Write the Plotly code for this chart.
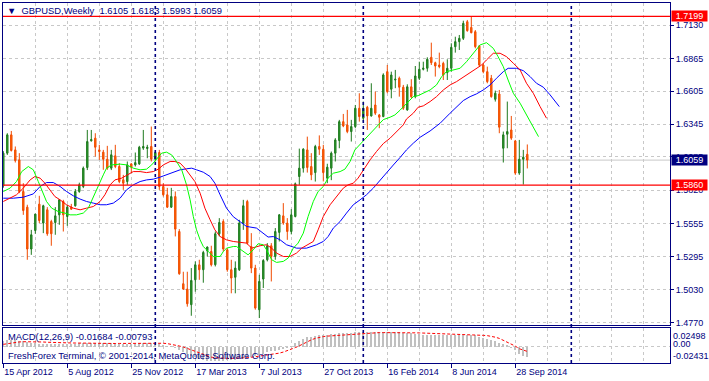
import pandas as pd
import plotly.graph_objects as go

# ---------------- data ----------------
start = pd.Timestamp("2012-04-15")
n_bars = 132
dates = pd.date_range(start, periods=n_bars, freq="7D")

opens = [1.5855,1.6114,1.6259,1.6140,1.6061,1.5810,1.5686,1.5354,1.5501,1.5710,
         1.5560,1.5665,1.5572,1.5564,1.5625,1.5731,1.5612,1.5686,1.5697,1.5810,
         1.5850,1.6000,1.6212,1.6233,1.6140,1.6122,1.6066,1.5995,1.6093,1.6008,
         1.5903,1.5889,1.6029,1.6021,1.6029,1.6154,1.6151,1.6167,1.6066,1.6119,
         1.5850,1.5784,1.5686,1.5770,1.5493,1.5079,1.5037,1.4913,1.5110,1.5229,
         1.5190,1.5340,1.5335,1.5230,1.5475,1.5572,1.5348,1.5190,1.5130,1.5190,
         1.5560,1.5731,1.5374,1.5203,1.4873,1.5116,1.5269,1.5380,1.5295,1.5486,
         1.5617,1.5560,1.5493,1.5612,1.5929,1.5995,1.6140,1.6008,1.5960,1.6167,
         1.6145,1.5916,1.5995,1.6114,1.6214,1.6364,1.6338,1.6285,1.6325,1.6470,
         1.6391,1.6478,1.6409,1.6496,1.6417,1.6404,1.6760,1.6621,1.6694,1.6708,
         1.6637,1.6457,1.6640,1.6562,1.6708,1.6779,1.6787,1.6874,1.6831,1.6813,
         1.6826,1.6752,1.6787,1.6958,1.6998,1.7024,1.7156,1.7111,1.7077,1.6964,
         1.6813,1.6760,1.6708,1.6541,1.6583,1.6153,1.6264,1.6298,1.6211,1.5956,
         1.6066,1.6105]
highs = [1.6130,1.6272,1.6290,1.6167,1.6114,1.5876,1.5705,1.5506,1.5633,1.5776,
         1.5705,1.5686,1.5586,1.5686,1.5750,1.5744,1.5705,1.5712,1.5830,1.5880,
         1.6008,1.6298,1.6298,1.6272,1.6180,1.6140,1.6172,1.6140,1.6180,1.6035,
         1.5942,1.6048,1.6035,1.6119,1.6172,1.6298,1.6180,1.6325,1.6127,1.6140,
         1.5876,1.5839,1.5839,1.5810,1.5512,1.5174,1.5174,1.5203,1.5256,1.5269,
         1.5340,1.5374,1.5380,1.5493,1.5599,1.5590,1.5361,1.5269,1.5256,1.5586,
         1.5744,1.5744,1.5480,1.5229,1.5150,1.5274,1.5401,1.5401,1.5520,1.5631,
         1.5718,1.5599,1.5670,1.5881,1.6150,1.6153,1.6245,1.6114,1.6180,1.6255,
         1.6180,1.6030,1.6127,1.6233,1.6378,1.6425,1.6457,1.6378,1.6496,1.6589,
         1.6523,1.6489,1.6668,1.6602,1.6425,1.6747,1.6813,1.6760,1.6774,1.6721,
         1.6655,1.6660,1.6700,1.6805,1.6839,1.6839,1.6874,1.6990,1.6839,1.6911,
         1.6839,1.6858,1.6985,1.7037,1.7051,1.7164,1.7170,1.7196,1.7090,1.6972,
         1.6826,1.6800,1.6734,1.6610,1.6615,1.6285,1.6523,1.6409,1.6219,1.6219,
         1.6140,1.6183]
lows = [1.5840,1.6100,1.6127,1.6040,1.5797,1.5625,1.5269,1.5308,1.5475,1.5560,
        1.5480,1.5459,1.5380,1.5467,1.5546,1.5493,1.5538,1.5665,1.5690,1.5800,
        1.5837,1.5980,1.6206,1.6087,1.6061,1.5982,1.5982,1.5980,1.5995,1.5876,
        1.5823,1.5863,1.5956,1.6008,1.6021,1.6140,1.6074,1.6048,1.6048,1.5823,
        1.5770,1.5680,1.5680,1.5454,1.5150,1.5030,1.4897,1.4825,1.5016,1.5110,
        1.5087,1.5295,1.5216,1.5216,1.5454,1.5334,1.5174,1.5003,1.5003,1.5180,
        1.5506,1.5390,1.5163,1.4873,1.4807,1.5045,1.5256,1.5097,1.5269,1.5414,
        1.5546,1.5427,1.5470,1.5605,1.5863,1.5960,1.5960,1.5900,1.5889,1.6100,
        1.5890,1.5876,1.5900,1.6048,1.6153,1.6320,1.6272,1.6206,1.6312,1.6364,
        1.6364,1.6298,1.6404,1.6417,1.6312,1.6399,1.6589,1.6549,1.6629,1.6562,
        1.6457,1.6450,1.6550,1.6549,1.6694,1.6770,1.6760,1.6813,1.6721,1.6787,
        1.6694,1.6694,1.6760,1.6911,1.6932,1.7011,1.7077,1.7064,1.6945,1.6800,
        1.6747,1.6668,1.6554,1.6523,1.6272,1.6040,1.6153,1.6219,1.5942,1.5942,
        1.5865,1.5993]
closes = [1.6114,1.6259,1.6135,1.6055,1.5810,1.5659,1.5354,1.5467,1.5631,1.5580,
          1.5697,1.5475,1.5475,1.5617,1.5744,1.5625,1.5686,1.5670,1.5810,1.5863,
          1.5995,1.6206,1.6222,1.6161,1.6127,1.6066,1.5995,1.6101,1.6008,1.5889,
          1.5876,1.6021,1.6003,1.6039,1.6161,1.6167,1.6161,1.6066,1.6119,1.5850,
          1.5784,1.5686,1.5770,1.5512,1.5158,1.5037,1.4920,1.5105,1.5229,1.5190,
          1.5327,1.5370,1.5229,1.5475,1.5564,1.5354,1.5190,1.5124,1.5203,1.5560,
          1.5697,1.5400,1.5203,1.4886,1.5097,1.5263,1.5380,1.5295,1.5493,1.5625,
          1.5560,1.5493,1.5625,1.5871,1.5995,1.6146,1.6000,1.5942,1.6167,1.6145,
          1.5960,1.6003,1.6114,1.6219,1.6364,1.6330,1.6285,1.6325,1.6470,1.6404,
          1.6470,1.6409,1.6470,1.6431,1.6399,1.6734,1.6602,1.6734,1.6700,1.6637,
          1.6470,1.6640,1.6562,1.6726,1.6779,1.6787,1.6858,1.6831,1.6805,1.6800,
          1.6734,1.6787,1.6953,1.6998,1.7024,1.7143,1.7085,1.7069,1.6958,1.6813,
          1.6760,1.6681,1.6562,1.6589,1.6320,1.6259,1.6285,1.6233,1.5956,1.6066,
          1.6082,1.6059]

# Alligator lines: (bar offset in weeks, price)
lips_wk = [0,1.7,3.3,4.6,6.25,7.5,8.75,9.6,10.8,12.1,13.75,15.4,16.7,18.3,20,21.25,22.5,23.75,25,25.8,
           27.1,29.2,30.8,32.5,34.2,35.8,37.1,38.3,39.6,40.8,42.1,43.3,44.6,45.8,46.7,47.5,48.3,49.2,50,51.25,
           52.5,54.2,55,55.8,57.5,58.3,60,61.2,62.5,63.7,65,65.8,67.1,68.3,70,71.2,72.5,73.7,75,76.2,
           77.5,78.7,80,81.2,82.5,84.2,85.4,86.7,87.9,90,91.7,93.3,95,96.7,97.9,99.2,100.8,102.5,103.7,105,
           106.7,108.3,109.6,110.8,112.5,114.2,115.8,117.5,119.2,120.8,122.5,123.7,125,126.2,127.5,129.2,130.8,132.5,133.8]
lips_val = [1.5810,1.5837,1.5889,1.5968,1.6008,1.5982,1.5889,1.5823,1.5731,1.5678,1.5651,1.5639,1.5625,1.5625,1.5639,1.5678,1.5770,1.5863,1.5942,1.5995,
            1.6021,1.6027,1.6021,1.5995,1.5982,1.5987,1.6021,1.6066,1.6114,1.6122,1.6100,1.6048,1.5982,1.5863,1.5744,1.5612,1.5506,1.5427,1.5374,1.5334,
            1.5295,1.5295,1.5334,1.5361,1.5374,1.5374,1.5334,1.5308,1.5348,1.5396,1.5388,1.5348,1.5269,1.5248,1.5256,1.5282,1.5361,1.5401,1.5480,1.5612,
            1.5731,1.5810,1.5850,1.5916,1.5955,1.5968,1.5987,1.6048,1.6140,1.6210,1.6272,1.6325,1.6380,1.6399,1.6417,1.6455,1.6510,1.6562,1.6570,1.6589,
            1.6615,1.6655,1.6721,1.6760,1.6774,1.6787,1.6839,1.6906,1.6972,1.6990,1.6945,1.6879,1.6800,1.6694,1.6589,1.6510,1.6417,1.6325,1.6245]

teeth_wk = [0,1.7,3.3,5,6.7,7.9,9.2,10.4,11.7,12.9,14.2,15.8,17.5,19.2,20.8,22.5,24.2,25.4,26.7,27.9,
            29.6,31.25,32.5,34.2,35.8,37.5,38.75,40,41.7,42.9,44.2,45.4,46.7,47.9,49.2,50.4,51.7,52.9,54.2,55.8,
            57.5,59.2,60.8,62.1,64.2,65.8,67.1,68.3,70,71.7,73.3,74.6,76.2,77.5,78.7,80,81.7,83.3,85,86.2,
            87.5,88.7,90,91.7,93.3,95,96.7,98.3,100,100.8,102.5,103.7,105,106.7,108.3,110,111.7,113.3,115,116.7,
            118.3,119.6,120.8,122.5,124.2,125.8,127.5,129.2,130.8,132.5,134.2,135.8]
teeth_val = [1.5731,1.5757,1.5784,1.5837,1.5902,1.5929,1.5916,1.5876,1.5823,1.5770,1.5744,1.5705,1.5678,1.5665,1.5678,1.5691,1.5731,1.5784,1.5863,1.5902,
             1.5916,1.5942,1.5968,1.5968,1.5960,1.5968,1.5987,1.6021,1.6048,1.6048,1.6035,1.5995,1.5942,1.5889,1.5797,1.5678,1.5586,1.5506,1.5453,1.5427,
             1.5414,1.5410,1.5401,1.5361,1.5380,1.5388,1.5361,1.5322,1.5295,1.5295,1.5322,1.5361,1.5388,1.5414,1.5506,1.5612,1.5705,1.5770,1.5837,1.5863,
             1.5876,1.5916,1.5982,1.6061,1.6127,1.6190,1.6233,1.6280,1.6338,1.6385,1.6431,1.6478,1.6489,1.6523,1.6562,1.6615,1.6655,1.6681,1.6716,1.6752,
             1.6787,1.6813,1.6853,1.6906,1.6906,1.6879,1.6827,1.6774,1.6668,1.6589,1.6483,1.6391]

jaw_wk = [0,2.5,5,7.5,9.2,10.8,12.5,14.2,15.8,17.5,19.2,20.8,22.5,24.2,25.8,27.5,29.2,30.8,32.5,34.2,
          35.8,37.5,39.2,40.8,42.5,44.2,45.8,47.1,48.3,50,51.7,52.9,54.2,55.8,57.5,59.2,60.8,63.3,65,66.2,
          67.5,69.2,70.8,73.3,75.8,78.3,80,81.2,82.5,84.2,85.8,87.5,89.2,90.8,92.5,94.2,95.8,97.5,99.2,100.8,
          102.5,104.2,106.7,109.2,111.7,113.3,115,116.7,118.3,120,121.7,123.3,125,126.2,128.3,130,131.7,133.3,135,136.7,139]
jaw_val = [1.5757,1.5757,1.5765,1.5791,1.5850,1.5881,1.5881,1.5850,1.5810,1.5776,1.5750,1.5731,1.5718,1.5705,1.5705,1.5718,1.5757,1.5823,1.5863,1.5889,
           1.5902,1.5908,1.5924,1.5942,1.5960,1.5982,1.5990,1.5995,1.5982,1.5963,1.5929,1.5876,1.5784,1.5678,1.5610,1.5572,1.5533,1.5520,1.5480,1.5449,
           1.5453,1.5427,1.5388,1.5361,1.5361,1.5388,1.5414,1.5453,1.5520,1.5572,1.5639,1.5705,1.5744,1.5784,1.5837,1.5902,1.5955,1.6020,1.6080,1.6140,
           1.6193,1.6240,1.6290,1.6351,1.6431,1.6483,1.6531,1.6562,1.6584,1.6615,1.6655,1.6708,1.6760,1.6787,1.6787,1.6768,1.6721,1.6668,1.6637,1.6576,1.6483]

# MACD(12,26,9): main (histogram) and signal, one value per bar
macd_main = [0.0100,0.0108,0.0112,0.0110,0.0102,0.0090,0.0075,0.0062,0.0056,0.0052,
             0.0052,0.0050,0.0047,0.0046,0.0048,0.0049,0.0050,0.0050,0.0052,0.0054,
             0.0057,0.0063,0.0068,0.0070,0.0069,0.0066,0.0062,0.0060,0.0057,0.0052,
             0.0046,0.0046,0.0046,0.0048,0.0054,0.0060,0.0063,0.0062,0.0061,0.0048,
             0.0034,0.0018,0.0006,-0.0015,-0.0048,-0.0082,-0.0118,-0.0150,-0.0178,-0.0202,
             -0.0220,-0.0232,-0.0240,-0.0243,-0.0238,-0.0232,-0.0228,-0.0226,-0.0222,-0.0215,
             -0.0195,-0.0180,-0.0170,-0.0160,-0.0140,-0.0115,-0.0095,-0.0080,-0.0065,-0.0050,
             -0.0040,-0.0030,0.0005,0.0060,0.0100,0.0135,0.0160,0.0170,0.0185,0.0195,
             0.0195,0.0205,0.0212,0.0220,0.0230,0.0233,0.0235,0.0237,0.0240,0.0240,
             0.0242,0.0243,0.0245,0.0246,0.0245,0.0248,0.0249,0.0248,0.0246,0.0244,
             0.0238,0.0232,0.0226,0.0222,0.0215,0.0205,0.0200,0.0198,0.0196,0.0195,
             0.0193,0.0192,0.0195,0.0197,0.0198,0.0200,0.0200,0.0198,0.0192,0.0165,
             0.0150,0.0130,0.0110,0.0096,0.0068,0.0045,0.0022,-0.0020,-0.0050,-0.0128,
             -0.0150,-0.01684]
macd_signal = [0.0040,0.0052,0.0062,0.0072,0.0080,0.0084,0.0085,0.0085,0.0084,0.0082,
               0.0079,0.0075,0.0071,0.0068,0.0066,0.0065,0.0064,0.0063,0.0062,0.0060,
               0.0058,0.0056,0.0055,0.0054,0.0053,0.0052,0.0052,0.0053,0.0054,0.0055,
               0.0056,0.0057,0.0058,0.0060,0.0062,0.0062,0.0062,0.0062,0.0061,0.0060,
               0.0058,0.0052,0.0042,0.0028,0.0012,-0.0005,-0.0030,-0.0058,-0.0085,-0.0110,
               -0.0135,-0.0158,-0.0175,-0.0186,-0.0192,-0.0195,-0.0196,-0.0196,-0.0195,-0.0193,
               -0.0190,-0.0185,-0.0178,-0.0168,-0.0160,-0.0152,-0.0145,-0.0135,-0.0122,-0.0108,
               -0.0090,-0.0068,-0.0044,-0.0015,0.0015,0.0050,0.0085,0.0115,0.0140,0.0160,
               0.0170,0.0178,0.0183,0.0187,0.0192,0.0198,0.0204,0.0210,0.0218,0.0223,
               0.0227,0.0231,0.0235,0.0236,0.0237,0.0237,0.0238,0.0238,0.0237,0.0237,
               0.0236,0.0235,0.0234,0.0233,0.0232,0.0230,0.0228,0.0224,0.0216,0.0212,
               0.0210,0.0208,0.0207,0.0207,0.0207,0.0207,0.0206,0.0206,0.0205,0.0195,
               0.0191,0.0186,0.0178,0.0160,0.0140,0.0110,0.0079,0.0040,0.0010,-0.0034,
               -0.0058,-0.00793]

price_ticks = [1.7130,1.6865,1.6605,1.6345,1.6085,1.5820,1.5555,1.5295,1.5030,1.4770]
date_ticks = ["2012-04-15","2012-08-05","2012-11-25","2013-03-17","2013-07-07",
              "2013-10-27","2014-02-16","2014-06-08","2014-09-28"]
levels = [1.7199, 1.5860]
separators = ["2013-01-06", "2014-01-05", "2015-01-04"]

title_text = "GBPUSD,Weekly"
macd_text = "MACD(12,26,9) -0.01684 -0.00793"
copyright_text = "FreshForex Terminal, \u00a9 2001-2014, MetaQuotes Software Corp."
macd_scale = ["0.02498", "0.00", "-0.02431"]

# ---------------- styling ----------------
NAVY = "#000080"
GRID = "#C8C8C8"
GDASH = "3px,3px"
FONT = "Liberation Sans, Arial, sans-serif"
WEEK_MS = 7 * 86400000

def wk_to_dates(wks):
    return [start + pd.Timedelta(days=7 * w) for w in wks]

fig = go.Figure()

fig.add_trace(go.Candlestick(
    x=dates, open=opens, high=highs, low=lows, close=closes,
    increasing=dict(line=dict(color="#1E7A1E", width=1), fillcolor="#2FA02F"),
    decreasing=dict(line=dict(color="#F04A00", width=1), fillcolor="#FF6A00"),
    xaxis="x", yaxis="y", hoverinfo="skip"))

for wk, val, col in [(jaw_wk, jaw_val, "#0000FF"), (teeth_wk, teeth_val, "#FF0000"),
                     (lips_wk, lips_val, "#00FF00")]:
    fig.add_trace(go.Scatter(x=wk_to_dates(wk), y=val, mode="lines",
                             line=dict(color=col, width=1), xaxis="x", yaxis="y",
                             hoverinfo="skip"))

fig.add_trace(go.Bar(x=dates, y=macd_main, width=0.5 * WEEK_MS,
                     marker=dict(color="#C0C0C0", line=dict(width=0)),
                     xaxis="x2", yaxis="y2", hoverinfo="skip"))
fig.add_trace(go.Scatter(x=dates, y=macd_signal, mode="lines",
                         line=dict(color="#FF0000", width=1, dash="3px,2px"),
                         xaxis="x2", yaxis="y2", hoverinfo="skip"))

x_left = start - pd.Timedelta(days=7 * 0.075)
x_right = start + pd.Timedelta(days=7 * 166.675)

common_x = dict(type="date", range=[x_left, x_right],
                showgrid=True, gridcolor=GRID, griddash=GDASH, gridwidth=1,
                minor=dict(tick0=start, dtick=8 * WEEK_MS, showgrid=True,
                           gridcolor=GRID, griddash=GDASH, ticks=""),
                showline=True, mirror=True, linecolor=NAVY, linewidth=1,
                zeroline=False, rangeslider=dict(visible=False))

fig.update_layout(
    width=709, height=381,
    margin=dict(l=3, r=39, t=3, b=18),
    paper_bgcolor="white", plot_bgcolor="white",
    showlegend=False, boxgap=0.5, bargap=0,
    font=dict(family=FONT, size=9, color=NAVY),
    xaxis=dict(domain=[0, 1], anchor="y", showticklabels=False, ticks="",
               tickvals=date_ticks, **common_x),
    xaxis2=dict(domain=[0, 1], anchor="y2", matches="x", tickvals=date_ticks,
                tickformat="%-d %b %Y",
                ticks="outside", ticklen=4, tickcolor=NAVY,
                ticklabelposition="outside right",
                tickfont=dict(family=FONT, size=9, color=NAVY), **common_x),
    yaxis=dict(domain=[0.10556, 1], anchor="x", side="right",
               range=[1.47518, 1.73044], tickvals=price_ticks,
               ticktext=[f"{v:.4f}" for v in price_ticks],
               ticks="outside", ticklen=3, tickcolor=NAVY,
               tickfont=dict(family=FONT, size=9, color=NAVY),
               showgrid=True, gridcolor=GRID, griddash=GDASH,
               showline=True, mirror=True, linecolor=NAVY, linewidth=1, zeroline=False),
    yaxis2=dict(domain=[0, 0.0986], anchor="x2", side="right",
                range=[-0.0274, 0.0323], tickvals=[0], showticklabels=False, ticks="",
                showgrid=True, gridcolor=GRID, griddash=GDASH,
                showline=True, mirror=True, linecolor=NAVY, linewidth=1, zeroline=False),
)

shapes = []
for lv in levels:
    shapes.append(dict(type="line", xref="paper", x0=0, x1=1, yref="y", y0=lv, y1=lv,
                       line=dict(color="#FF0000", width=1.2), layer="above"))
shapes.append(dict(type="line", xref="paper", x0=0, x1=1, yref="y",
                   y0=closes[-1], y1=closes[-1],
                   line=dict(color="#C8C8C8", width=1), layer="between"))
for sd in separators:
    shapes.append(dict(type="line", xref="x", x0=sd, x1=sd, yref="paper", y0=0, y1=1,
                       line=dict(color=NAVY, width=1.6, dash="3px,3px"), layer="above"))
fig.update_layout(shapes=shapes)

ann = []
ann.append(dict(text="\u25BC\u00a0\u00a0" + title_text + "\u00a0\u00a0" +
                f"{opens[-1]:.4f} {highs[-1]:.4f} {lows[-1]:.4f} {closes[-1]:.4f}",
                xref="paper", yref="paper", x=0, y=1, xanchor="left", yanchor="middle",
                xshift=2, yshift=-7.3, showarrow=False,
                font=dict(family=FONT, size=9.4, color=NAVY)))
ann.append(dict(text=macd_text, xref="paper", yref="paper", x=0, y=(363 - 336) / 360,
                xanchor="left", yanchor="middle", xshift=3, showarrow=False,
                font=dict(family=FONT, size=9.4, color=NAVY)))
ann.append(dict(text=copyright_text, xref="paper", yref="paper", x=0, y=(363 - 355.5) / 360,
                xanchor="left", yanchor="middle", xshift=3, showarrow=False,
                font=dict(family=FONT, size=9.4, color=NAVY)))
for val, bg in [(levels[0], "#FF0000"), (closes[-1], NAVY), (levels[1], "#FF0000")]:
    ann.append(dict(text=f"{val:.4f}", xref="paper", yref="y", x=1, y=val,
                    xanchor="left", yanchor="middle", xshift=1, showarrow=False,
                    width=35, height=10, borderpad=0, bgcolor=bg,
                    font=dict(family=FONT, size=9, color="white")))
for txt, pix in zip(macd_scale, [335.7, 343.7, 355.7]):
    ann.append(dict(text=txt, xref="paper", yref="paper", x=1, y=(363 - pix) / 360,
                    xanchor="left", yanchor="middle", xshift=1, showarrow=False,
                    font=dict(family=FONT, size=9, color=NAVY)))
fig.update_layout(annotations=ann)

fig.write_html("out.html",
               config={"displayModeBar": False, "staticPlot": True},
               post_script="document.body.style.margin='0px';document.body.style.overflow='hidden';")
